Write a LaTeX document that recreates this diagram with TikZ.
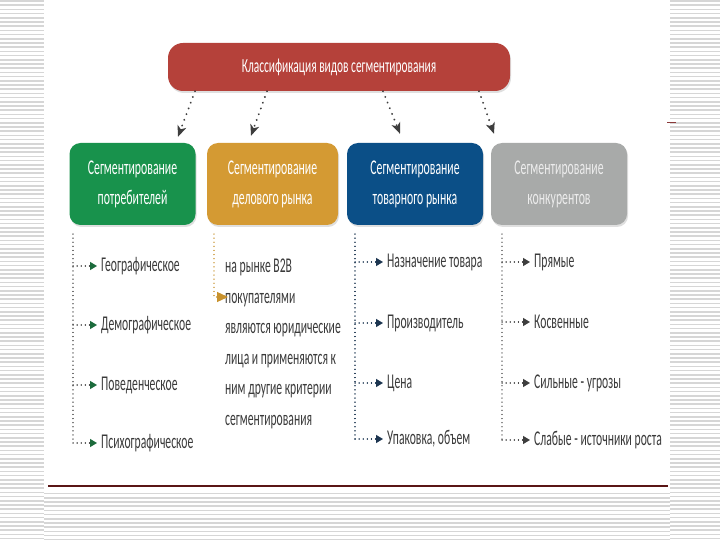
\documentclass[tikz,border=0pt]{standalone}
\usepackage{fontspec}
\setmainfont{Carlito}
\newfontfamily\condT[FakeStretch=0.57]{Carlito}
\newfontfamily\condB[FakeStretch=0.56]{Carlito}
\newfontfamily\condI[FakeStretch=0.555]{Carlito}
\usetikzlibrary{arrows.meta,shadows}
\definecolor{titlered}{HTML}{B5413A}
\definecolor{cgreen}{HTML}{18924C}
\definecolor{corange}{HTML}{D49A33}
\definecolor{cblue}{HTML}{0B4F87}
\definecolor{cgray}{HTML}{A8AAA9}
\definecolor{agreen}{HTML}{1C6B3C}
\definecolor{aorange}{HTML}{C8922E}
\definecolor{ablue}{HTML}{1C3550}
\definecolor{agray}{HTML}{3E3E3E}
\definecolor{itemc}{HTML}{3A3A3A}
\definecolor{stripec}{HTML}{D6D6D6}
\begin{document}
\begin{tikzpicture}[x=1pt,y=-1pt,
  stripe/.style={draw=stripec,line width=1.6pt},
  catbox/.style={rounded corners=11pt,minimum width=130pt,minimum height=82pt,align=center,
    text=white,font=\condB\fontsize{21}{30}\selectfont,
    drop shadow={shadow xshift=1pt,shadow yshift=-2pt,opacity=0.25}},
  titlebox/.style={fill=titlered,rounded corners=15pt,minimum width=342pt,minimum height=48pt,
    text=white,font=\condT\fontsize{20}{22}\selectfont,
    drop shadow={shadow xshift=1pt,shadow yshift=-2pt,opacity=0.25}},
  tarrow/.style={draw=agray,line width=2pt,dash pattern=on 0.1pt off 6pt,line cap=round,
    -{Stealth[length=11pt,width=9pt,inset=3pt,line cap=butt,sep=0pt]}},
  dotline/.style={line width=1.3pt,dash pattern=on 0.1pt off 4pt,line cap=round},
  item/.style={anchor=west,inner xsep=4pt,inner ysep=2pt,text=itemc,
    font=\condI\fontsize{21}{24}\selectfont}
]
\useasboundingbox (0,0) rectangle (720,540);
\fill[white] (0,0) rectangle (720,540);
% slide background stripes
\foreach \y in {1,5.2,...,540} {
  \draw[stripe] (0,\y) -- (44,\y);
  \draw[stripe] (670,\y) -- (720,\y);
}
\foreach \y in {493.6,497.8,...,540} {
  \draw[stripe] (44,\y) -- (670,\y);
}
\draw[draw={rgb,255:red,90;green,21;blue,21},line width=1.5pt] (48,486) -- (668,486);
\draw[draw={rgb,255:red,139;green,58;blue,58},line width=1pt] (667,123) -- (676,123);

% title
\node[titlebox] (title) at (339,67) {Классификация видов сегментирования};

% category boxes
\node[catbox,fill=cgreen,minimum width=126pt] (g) at (132.5,184) {Сегментирование\\потребителей};
\node[catbox,fill=corange,minimum width=131pt] (o) at (272.5,184) {Сегментирование\\делового рынка};
\node[catbox,fill=cblue,minimum width=136pt] (b) at (415,184) {Сегментирование\\товарного рынка};
\node[catbox,fill=cgray,minimum width=136pt,text={rgb,255:red,236;green,236;blue,236}] (k) at (559,184) {Сегментирование\\конкурентов};

% title arrows
\draw[tarrow] ([xshift=-144pt]title.south) -- ([xshift=45.5pt,yshift=6pt]g.north);
\draw[tarrow] ([xshift=-72pt]title.south) -- ([xshift=-21.5pt,yshift=7pt]o.north);
\draw[tarrow] ([xshift=44pt]title.south) -- ([xshift=-15pt,yshift=9pt]b.north);
\draw[tarrow] ([xshift=140pt]title.south) -- ([xshift=-65pt,yshift=9pt]k.north);

% column 1
\coordinate (v1) at (73,234);
\node[item] (g1) at (97,266) {Географическое};
\node[item] (g2) at (97,325) {Демографическое};
\node[item] (g3) at (97,385) {Поведенческое};
\node[item] (g4) at (97,443) {Психографическое};
\draw[dotline,draw=agray!80] (v1) -- (v1 |- g4.west);
\foreach \n in {g1,g2,g3,g4}
  \draw[dotline,draw=agray,-{Triangle[length=7pt,width=8pt,color=agreen]}] (v1 |- \n.west) -- (\n.west);

% column 2
\coordinate (v2) at (214,234);
\coordinate (b2bin) at (228,297);
\node[anchor=west,inner sep=0pt,text=itemc,align=left,
  font=\condI\fontsize{21}{30.5}\selectfont] (b2b) at (225,344)
  {на рынке B2B\\
   покупателями\\
   являются юридические\\
   лица и применяются  к\\
   ним другие критерии\\
   сегментирования};
\draw[dotline,draw=aorange!80,-{Triangle[length=11pt,width=10pt,color=aorange]}] (v2) |- (b2bin);

% column 3
\coordinate (v3) at (355,234);
\node[item] (b1) at (383,262) {Назначение товара};
\node[item] (b2) at (383,323) {Производитель};
\node[item] (b3) at (383,383) {Цена};
\node[item] (b4) at (383,439) {Упаковка, объем};
\draw[dotline,draw=ablue] (v3) -- (v3 |- b4.west);
\foreach \n in {b1,b2,b3,b4}
  \draw[dotline,draw=ablue,-{Triangle[length=7pt,width=8pt,color=ablue]}] (v3 |- \n.west) -- (\n.west);

% column 4
\coordinate (v4) at (502,234);
\node[item] (k1) at (530,262) {Прямые};
\node[item] (k2) at (530,322) {Косвенные};
\node[item] (k3) at (530,383) {Сильные - угрозы};
\node[item] (k4) at (530,440) {Слабые - источники роста};
\draw[dotline,draw=agray!70] (v4) -- (v4 |- k4.west);
\foreach \n in {k1,k2,k3,k4}
  \draw[dotline,draw=agray,-{Triangle[length=7pt,width=8pt,color=agray]}] (v4 |- \n.west) -- (\n.west);
\end{tikzpicture}
\end{document}
